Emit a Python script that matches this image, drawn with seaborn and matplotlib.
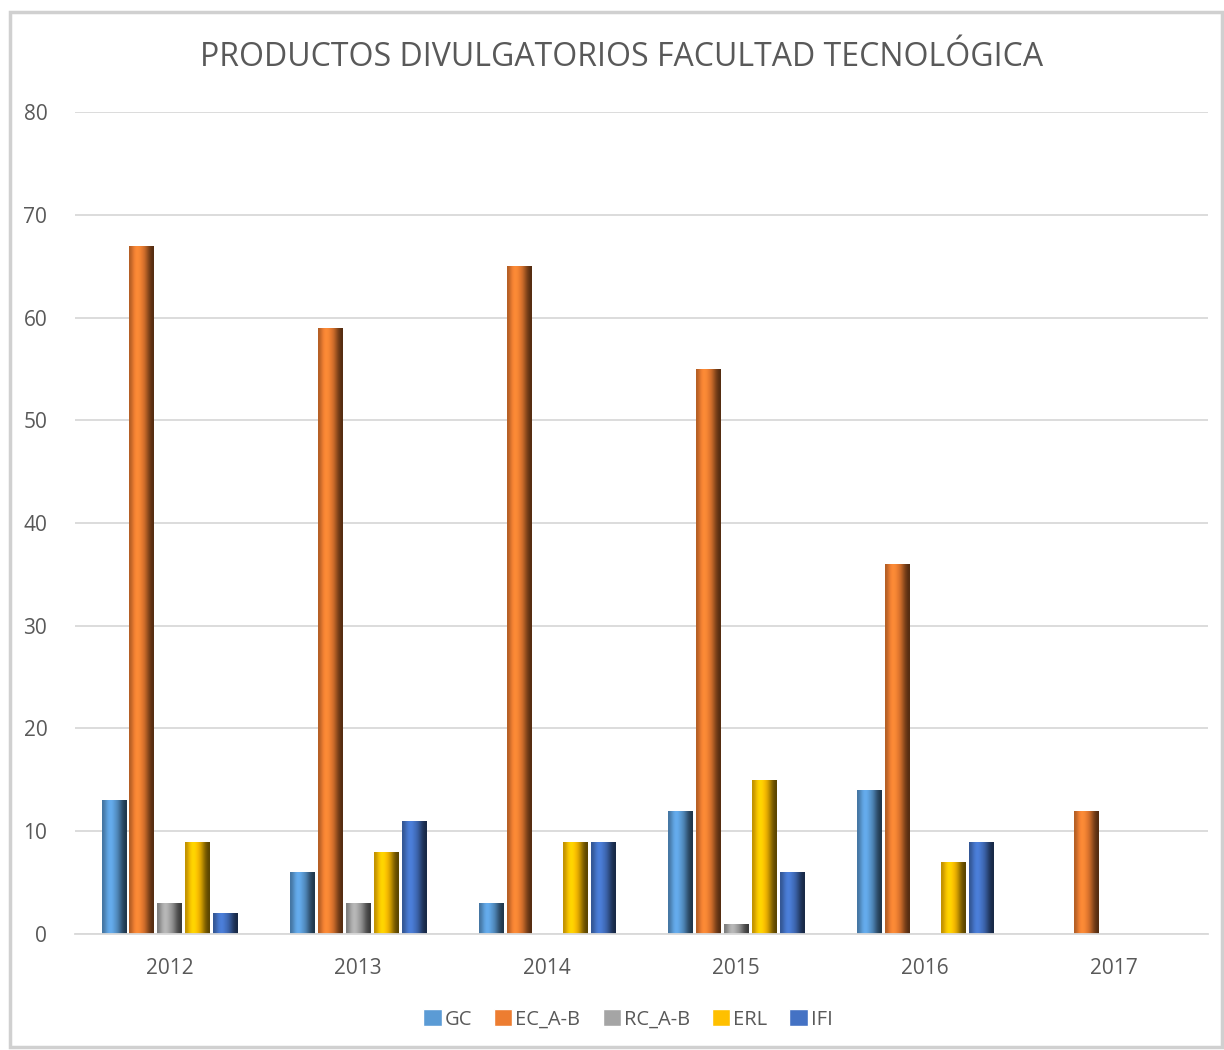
import numpy as np
import pandas as pd
import seaborn as sns
import matplotlib.pyplot as plt
from matplotlib.patches import Rectangle
from matplotlib.colors import to_rgb

# Data
years = ["2012", "2013", "2014", "2015", "2016", "2017"]
gc = [13, 6, 3, 12, 14, 0]
ec_ab = [67, 59, 65, 55, 36, 12]
rc_ab = [3, 3, 0, 1, 0, 0]
erl = [9, 8, 9, 15, 7, 0]
ifi = [2, 11, 9, 6, 9, 0]

series = ["GC", "EC_A-B", "RC_A-B", "ERL", "IFI"]
colors = ["#5B9BD5", "#ED7D31", "#A5A5A5", "#FFC000", "#4472C4"]

df = pd.DataFrame({"Año": years, "GC": gc, "EC_A-B": ec_ab,
                   "RC_A-B": rc_ab, "ERL": erl, "IFI": ifi})
long_df = df.melt(id_vars="Año", var_name="Producto", value_name="Cantidad")

sns.set_style("white")
plt.rcParams["font.family"] = ["Open Sans", "DejaVu Sans"]
text_col = "#595959"

fig = plt.figure(figsize=(12.24, 10.5), dpi=100)
ax = fig.add_axes([0.0613, 0.1105, 0.9257, 0.7828])

sns.barplot(data=long_df, x="Año", y="Cantidad", hue="Producto",
            hue_order=series, palette=colors, width=0.74, gap=0.14,
            ax=ax, legend=False, saturation=1)

# bevel-like shading on each bar
for patch in list(ax.patches):
    h = patch.get_height()
    if h <= 0:
        patch.set_visible(False)
        continue
    base = np.array(to_rgb(patch.get_facecolor()))
    x0, w = patch.get_x(), patch.get_width()
    shade = np.array([0.75, 1.05, 1.15, 1.0, 0.85, 0.55, 0.35])
    img = np.clip(base[None, None, :] * shade[None, :, None], 0, 1)
    im = ax.imshow(img, extent=[x0, x0 + w, 0, h], aspect="auto",
                   interpolation="bicubic", zorder=patch.get_zorder() + 0.1)
    im.set_clip_path(patch)
    patch.set_edgecolor("none")

ax.set_xlim(-0.5, 5.5)
ax.set_ylim(0, 80)
ax.set_yticks(range(0, 81, 10))
ax.yaxis.grid(True, color="#D9D9D9", linewidth=1.3)
ax.set_axisbelow(True)
for s in ["top", "right", "left"]:
    ax.spines[s].set_visible(False)
ax.spines["bottom"].set_color("#D9D9D9")
ax.spines["bottom"].set_linewidth(1.3)
ax.tick_params(axis="both", length=0, labelsize=15, colors=text_col)
ax.tick_params(axis="x", pad=17)
ax.tick_params(axis="y", pad=20)
ax.set_xlabel("")
ax.set_ylabel("")

fig.text(0.508, 0.945, "PRODUCTOS DIVULGATORIOS FACULTAD TECNOLÓGICA",
         ha="center", va="center", fontsize=23, color=text_col)

handles = [Rectangle((0, 0), 1, 1, facecolor=c) for c in colors]
fig.legend(handles, series, loc="center", bbox_to_anchor=(0.513, 0.029),
           ncol=5, frameon=False, fontsize=14.5, labelcolor=text_col,
           handlelength=0.9, handleheight=0.9, handletextpad=0.15,
           columnspacing=1.1)

# chart frame
fig.patches.append(Rectangle((0.008, 0.003), 0.99, 0.986, transform=fig.transFigure,
                             fill=False, edgecolor="#D0D0D0", linewidth=2.5))

fig.savefig("out.png", dpi=100)
